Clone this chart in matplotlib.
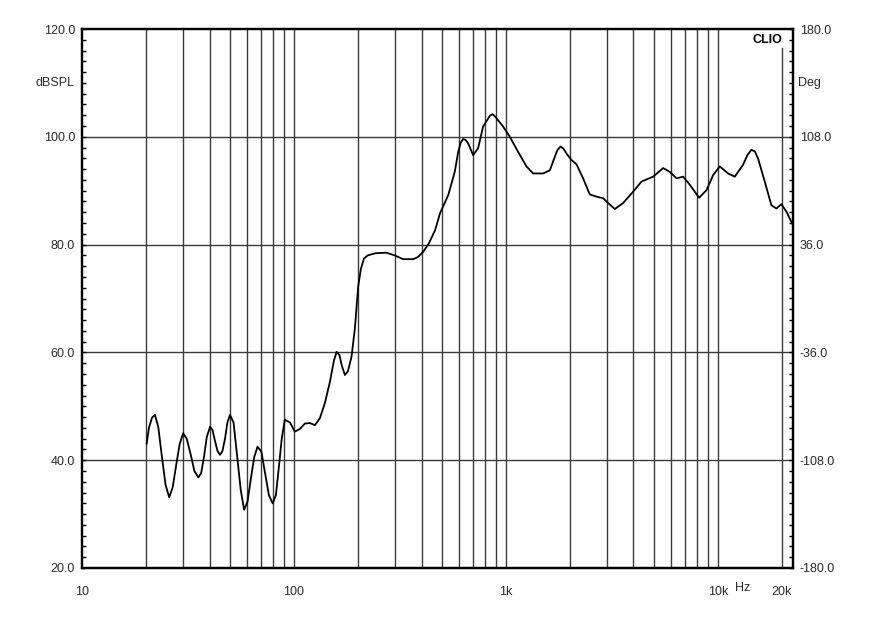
import matplotlib as mpl

mpl.use('Agg')

import matplotlib.pyplot as plt
import matplotlib.transforms as mtransforms
from matplotlib.ticker import MultipleLocator, NullFormatter

FONT_NAME = 'Liberation Sans'
TICK_FONT_SIZE = 9
TEXT_COLOR = '#2a2a2a'
GRID_COLOR = '#3a3a3a'

mpl.rcParams['font.family'] = [FONT_NAME, 'DejaVu Sans']

# frequency response (Hz, dB SPL)
freq_hz = [20.2, 20.7, 21.4, 22.1, 22.9, 23.8, 24.8, 25.8, 26.8, 27.8,
           28.9, 30.0, 31.2, 32.6, 33.9, 35.4, 36.5, 37.6, 38.8, 40.2,
           41.3, 42.4, 43.6, 44.8, 46.0, 47.3, 48.5, 49.9, 51.9, 53.9,
           56.1, 58.2, 60.4, 62.6, 64.9, 67.3, 70.2, 73.2, 76.2, 79.4,
           82.2, 84.8, 87.6, 90.6, 95.8, 101.0, 106.7, 112.7, 118.9, 125.6,
           132.6, 140.0, 147.8, 154.5, 159.0, 164.0, 168.4, 174.0, 179.8, 187.0,
           194.0, 201.0, 207.0, 214.0, 223.0, 243.0, 273.0, 299.0, 327.0, 366.0,
           385.0, 408.0, 433.0, 464.0, 489.0, 535.0, 574.0, 596.0, 612.0, 629.0,
           646.0, 664.0, 701.0, 740.0, 781.0, 841.0, 865.0, 888.0, 971.0, 1044.0,
           1143.0, 1252.0, 1345.0, 1500.0, 1614.0, 1703.0, 1750.0, 1811.0, 1870.0, 1933.0,
           2040.0, 2155.0, 2315.0, 2490.0, 2680.0, 2880.0, 2985.0, 3267.0, 3574.0, 3986.0,
           4368.0, 4955.0, 5524.0, 5939.0, 6387.0, 6862.0, 7380.0, 8166.0, 8850.0, 9510.0,
           10220.0, 11190.0, 12030.0, 13160.0, 13800.0, 14410.0, 14950.0, 15490.0, 16660.0, 17910.0,
           18910.0, 19970.0, 21090.0, 22650.0]
spl_db = [43.1, 46.0, 47.9, 48.4, 46.2, 40.8, 35.4, 33.1, 35.0, 39.0,
          43.0, 45.0, 44.0, 41.0, 38.0, 36.8, 37.6, 40.5, 44.3, 46.2,
          45.6, 43.6, 41.7, 41.0, 41.7, 44.0, 46.9, 48.4, 47.0, 41.0,
          34.5, 30.8, 32.3, 36.5, 40.5, 42.5, 41.6, 37.5, 33.5, 32.0,
          33.5, 38.5, 44.0, 47.5, 47.0, 45.3, 45.8, 46.8, 46.9, 46.5,
          47.8, 50.6, 54.5, 58.5, 60.1, 59.5, 57.5, 55.8, 56.5, 59.2,
          64.5, 72.2, 75.5, 77.4, 78.0, 78.4, 78.5, 78.0, 77.3, 77.3,
          77.7, 78.7, 80.2, 82.7, 85.8, 89.2, 93.5, 97.2, 98.9, 99.6,
          99.4, 98.8, 96.6, 97.9, 101.9, 103.9, 104.2, 103.8, 101.9, 100.0,
          97.2, 94.5, 93.2, 93.2, 93.8, 96.3, 97.5, 98.2, 97.8, 96.9,
          95.7, 94.9, 92.3, 89.3, 88.9, 88.6, 88.0, 86.6, 87.7, 89.8,
          91.7, 92.6, 94.2, 93.5, 92.3, 92.6, 91.1, 88.7, 90.1, 92.9,
          94.5, 93.2, 92.6, 94.8, 96.6, 97.6, 97.3, 96.0, 91.7, 87.3,
          86.7, 87.5, 86.1, 83.6]

# axis ticks
db_ticks = [20, 40, 60, 80, 100, 120]
deg_ticks = [-180, -108, -36, 36, 108, 180]
x_tick_values = [10, 100, 1000, 10000, 20000]
x_tick_labels = ['10', '100', '1k', '10k', '20k']
grid_freqs = [20, 30, 40, 50, 60, 70, 80, 90,
              100, 200, 300, 400, 500, 600, 700, 800, 900,
              1000, 2000, 3000, 4000, 5000, 6000, 7000, 8000, 9000,
              10000]

X_MIN, X_MAX = 10, 22650

fig = plt.figure(figsize=(8.8, 6.2), dpi=100)
ax = fig.add_axes([82 / 880, 1 - 568 / 620, 711 / 880, 539 / 620])

ax.set_xscale('log')
ax.set_xlim(X_MIN, X_MAX)
ax.set_ylim(20, 120)

# grid
for f in grid_freqs:
    ax.axvline(f, color=GRID_COLOR, linewidth=1.0, zorder=1)
# the 20k line stops under the CLIO tag
ax.axvline(20000, ymax=(568 - 48) / 539, color=GRID_COLOR, linewidth=1.0, zorder=1)
for v in [40, 60, 80, 100]:
    ax.axhline(v, color=GRID_COLOR, linewidth=1.0, zorder=1)

ax.plot(freq_hz, spl_db, color='black', linewidth=1.3, zorder=3)

for s in ax.spines.values():
    s.set_linewidth(1.6)
    s.set_color('black')

# left axis
ax.set_yticks(db_ticks)
ax.set_yticklabels(['%.1f' % v for v in db_ticks])
ax.yaxis.set_minor_locator(MultipleLocator(2))
ax.tick_params(axis='y', which='both', direction='in', length=3, width=1,
               pad=5, labelsize=TICK_FONT_SIZE, labelcolor=TEXT_COLOR)

# bottom axis
ax.set_xticks(x_tick_values)
ax.set_xticklabels(x_tick_labels)
ax.xaxis.set_minor_formatter(NullFormatter())
ax.tick_params(axis='x', which='both', length=0, pad=13,
               labelsize=TICK_FONT_SIZE, labelcolor=TEXT_COLOR)

# right axis in degrees
ax2 = ax.twinx()
ax2.set_ylim(-180, 180)
ax2.set_yticks(deg_ticks)
ax2.set_yticklabels(['%.1f' % v for v in deg_ticks])
ax2.yaxis.set_minor_locator(MultipleLocator(7.2))
ax2.tick_params(axis='y', which='both', direction='in', length=3, width=1,
                pad=5, labelsize=TICK_FONT_SIZE, labelcolor=TEXT_COLOR)
for s in ax2.spines.values():
    s.set_linewidth(1.6)

# unit labels
ax.text(-0.011, 110, 'dBSPL', transform=mtransforms.blended_transform_factory(ax.transAxes, ax.transData),
        ha='right', va='center', fontsize=TICK_FONT_SIZE, color=TEXT_COLOR)
ax.text(1.007, 110, 'Deg', transform=mtransforms.blended_transform_factory(ax.transAxes, ax.transData),
        ha='left', va='center', fontsize=TICK_FONT_SIZE, color=TEXT_COLOR)
ax.text(12000, -0.037, 'Hz', transform=mtransforms.blended_transform_factory(ax.transData, ax.transAxes),
        ha='left', va='center', fontsize=TICK_FONT_SIZE, color=TEXT_COLOR)
ax.text(20100, 118, 'CLIO', ha='right', va='center', fontsize=TICK_FONT_SIZE,
        fontweight='bold', color='black', zorder=4)

plt.savefig('out.png', dpi=100)
